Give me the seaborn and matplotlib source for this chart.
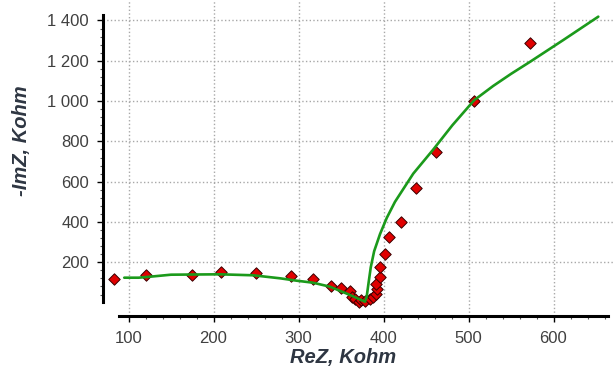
import matplotlib
matplotlib.use("Agg")
import matplotlib.pyplot as plt
import seaborn as sns
from matplotlib.ticker import FixedLocator, FuncFormatter

# measured points (ReZ, -ImZ) in kOhm
re_z = [83.3, 120.2, 175.1, 208.5, 250.0, 291.5, 317.4, 338.2, 349.6, 360.5,
        362.5, 366.5, 371.5, 373.5, 378.2, 384.1, 388.0, 391.2, 392.7, 391.2,
        395.9, 395.9, 401.8, 406.8, 420.2, 438.2, 461.4, 506.8, 572.4]
im_z = [115.6, 138.5, 135.5, 151.9, 145.4, 132.0, 115.6, 82.4, 71.0, 59.0,
        29.0, 16.4, 4.5, 13.0, 9.4, 16.4, 26.3, 42.7, 66.0, 92.3,
        128.5, 178.0, 241.0, 324.0, 400.0, 567.0, 746.0, 1000.0, 1287.0]

# fitted curve
fit_re = [95, 112, 129, 150, 207.6, 246.8, 278.2, 297.9, 317, 337, 360.6, 378.2,
          380.2, 382.5, 385, 389, 395.9, 403.8, 413.5, 435, 458.6, 481, 506.8,
          529, 550, 572.4, 611.5, 652.7]
fit_im = [123.6, 123.6, 130, 138.5, 140.4, 135.5, 120.6, 108.7, 98.8, 79, 37.7, 4.5,
          29, 100, 175, 255, 340, 420, 500, 640, 760, 880, 1005,
          1075, 1135, 1195, 1303, 1419]

x_major = [100, 200, 300, 400, 500, 600]
y_major = [200, 400, 600, 800, 1000, 1200, 1400]

sns.set_style("white")
plt.rcParams['font.family'] = ['Liberation Sans', 'DejaVu Sans']

fig = plt.figure(figsize=(6.13, 3.72), dpi=100)
ax = fig.add_axes([103 / 613, 56 / 372, 510 / 613, 316 / 372])

sns.scatterplot(x=re_z, y=im_z, marker='D', s=34, color='#e00000',
                edgecolor='#3a0000', linewidth=0.7, ax=ax, zorder=3)
sns.lineplot(x=fit_re, y=fit_im, sort=False, estimator=None, color='#1b9a1b',
             linewidth=1.9, ax=ax, zorder=4)

ax.set_xlim(70, 670)
ax.set_ylim(-66.5, 1501.7)

ax.xaxis.set_major_locator(FixedLocator(x_major))
ax.xaxis.set_minor_locator(FixedLocator([v for v in range(100, 661, 20) if v % 100]))
ax.yaxis.set_major_locator(FixedLocator(y_major))
ax.yaxis.set_minor_locator(FixedLocator([v for v in range(40, 1401, 40) if v % 200]))
ax.yaxis.set_major_formatter(FuncFormatter(lambda v, p: f"{int(v):,}".replace(",", " ")))

for s in ['top', 'right']:
    ax.spines[s].set_visible(False)
for s in ['left', 'bottom']:
    ax.spines[s].set_linewidth(2.2)
    ax.spines[s].set_color('black')
ax.spines['left'].set_bounds(4.5, 1427)
ax.spines['bottom'].set_bounds(88.8, 664)

ax.grid(True, which='major', linestyle=':', color='#a8a8a8', linewidth=1.0)
ax.tick_params(which='major', direction='out', length=4, width=1, color='black',
               labelsize=12, labelcolor='#404040', bottom=True, left=True)
ax.tick_params(which='minor', direction='out', length=2.5, width=0.8, color='#555555',
               bottom=True, left=True)
ax.tick_params(axis='x', which='major', pad=7)
ax.tick_params(axis='y', which='major', pad=6)

fig.text(343 / 613, 1 - 357 / 372, 'ReZ, Kohm', ha='center', va='center',
         fontsize=14.5, fontweight='bold', fontstyle='italic', color='#2e3642')
fig.text(22 / 613, 1 - 141 / 372, '-ImZ, Kohm', ha='center', va='center',
         rotation=90, fontsize=14.5, fontweight='bold', fontstyle='italic',
         color='#2e3642')

fig.savefig('out.png', dpi=100)
